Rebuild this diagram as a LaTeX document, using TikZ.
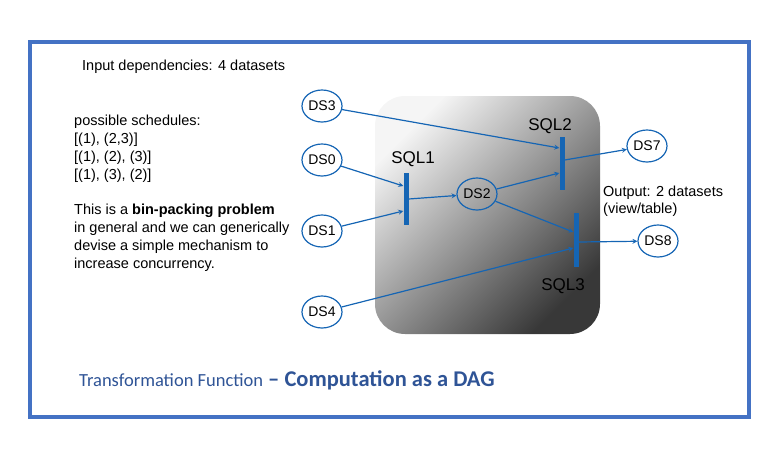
\documentclass[tikz,border=0pt]{standalone}
\usepackage{fontspec}
\setmainfont{Liberation Sans}
\newfontfamily\titlefont{Carlito}
\usepackage{xcolor}
\usepackage{tikz}
\usetikzlibrary{calc, shapes.geometric, positioning}

\definecolor{khung}{RGB}{68,114,196}
\definecolor{xanh}{RGB}{21,101,180}
\definecolor{tieude}{RGB}{47,84,150}

\begin{document}
\begin{tikzpicture}[>=stealth, x=1pt, y=-1pt,
    ds/.style={ellipse, draw=xanh, line width=1.2pt, minimum width=40pt, minimum height=32pt, inner sep=0pt, font=\fontsize{14}{14}\selectfont},
    sqlbar/.style={rectangle, fill=xanh, minimum width=5pt, inner sep=0pt},
    sqlten/.style={font=\fontsize{17}{17}\selectfont},
    noi/.style={->, draw=xanh, line width=1.2pt},
    chu/.style={align=left, anchor=west, inner sep=0pt, font=\fontsize{14.5}{18}\selectfont}]

    \useasboundingbox (0,0) rectangle (779,458);
    % Khung ngoài và nền xám
    \draw[khung, line width=4pt] (30,42) rectangle (749,417);
    \shade[rounded corners=30pt, top color=gray!8, bottom color=black!78, shading angle=45] (375,96) rectangle (600,334);

    % Chữ bên trái
    \node[chu] (dauvao) at (82,67) {Input dependencies: 4 datasets};
    \node[chu] (lich) at (74,149) {possible schedules:\\{[(1), (2,3)]}\\{[(1), (2), (3)]}\\{[(1), (3), (2)]}};
    \node[chu] (ghichu) at (74,238) {This is a \textbf{bin-packing problem}\\in general and we can generically\\devise a simple mechanism to\\increase concurrency.};
    \node[chu, font=\fontsize{14.5}{17}\selectfont] (daura) at (603,201) {Output: 2 datasets\\(view/table)};

    % Tập dữ liệu
    \node[ds] (ds3) at (322,106) {DS3};
    \node[ds] (ds0) at (322,160) {DS0};
    \node[ds] (ds1) at (322,231) {DS1};
    \node[ds] (ds4) at (322,312) {DS4};
    \node[ds] (ds2) at (477,194) {DS2};
    \node[ds] (ds7) at (647,146) {DS7};
    \node[ds] (ds8) at (658,241) {DS8};

    % Các bước SQL
    \node[sqlbar, minimum height=52pt] (sql1) at (406,199) {};
    \node[sqlbar, minimum height=53pt] (sql2) at (562,163) {};
    \node[sqlbar, minimum height=54pt] (sql3) at (576,240) {};
    \node[sqlten, above=3pt of sql1, xshift=7pt] (ten1) {SQL1};
    \node[sqlten, above=-1pt of sql2, xshift=-12pt] (ten2) {SQL2};
    \node[sqlten, below=8pt of sql3, xshift=-13pt] (ten3) {SQL3};

    % Mũi tên
    \draw[noi] (ds3) -- ($(sql2.west)+(0,-15)$);
    \draw[noi] (ds0) -- ($(sql1.west)+(0,-13)$);
    \draw[noi] (ds1) -- ($(sql1.west)+(0,12)$);
    \draw[noi] (sql1.east) -- (ds2);
    \draw[noi] (ds2) -- ($(sql2.west)+(0,10)$);
    \draw[noi] (ds2) -- ($(sql3.west)+(0,-8)$);
    \draw[noi] (ds4) -- ($(sql3.west)+(0,8)$);
    \draw[noi] ($(sql2.east)+(0,-3)$) -- (ds7);
    \draw[noi] ($(sql3.east)+(0,2)$) -- (ds8);

    % Tiêu đề
    \node[anchor=west, inner sep=0pt, text=tieude] (tieude) at (79,380) {\titlefont\fontsize{18.5}{20}\selectfont Transformation Function\hspace{5pt}\fontsize{22.5}{24}\selectfont\bfseries – Computation as a DAG};
\end{tikzpicture}
\end{document}
